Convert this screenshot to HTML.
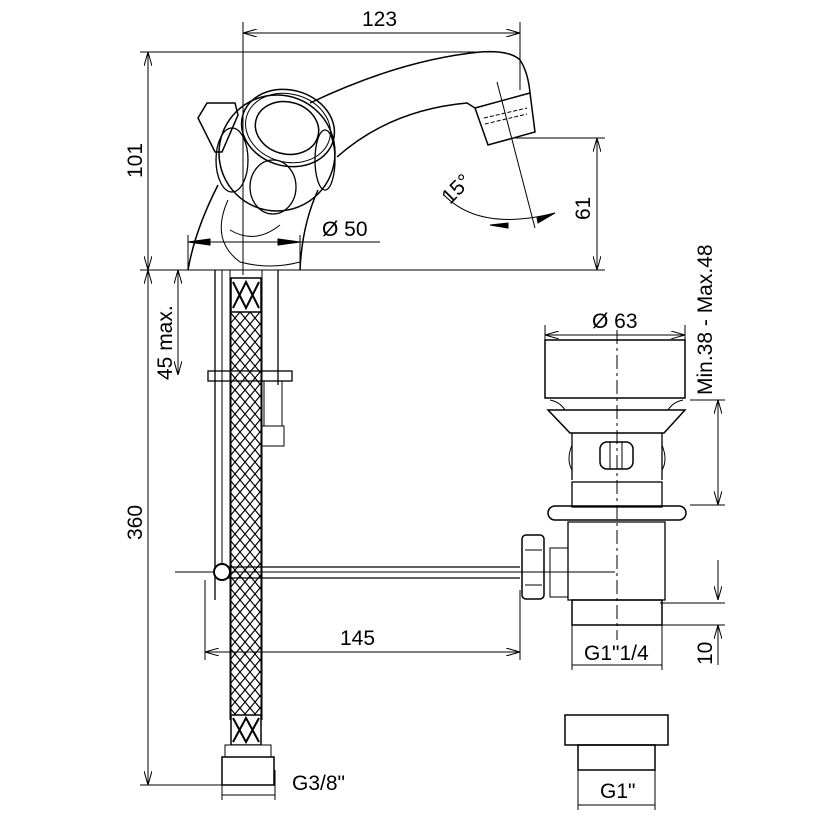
<!DOCTYPE html>
<html><head><meta charset="utf-8"><style>
html,body{margin:0;padding:0;background:#fff;}
svg{display:block;}
text{font-family:"Liberation Sans",sans-serif;font-size:21px;fill:#000;}
</style></head><body>
<svg width="830" height="830" viewBox="0 0 830 830" xmlns="http://www.w3.org/2000/svg">
<defs>
<marker id="a" markerWidth="14" markerHeight="8" refX="14" refY="4" orient="auto-start-reverse" markerUnits="userSpaceOnUse"><path d="M0,0 L14,4 L0,8" fill="none" stroke="#000" stroke-width="1"/></marker>
<pattern id="mesh" width="10" height="12" patternUnits="userSpaceOnUse"><path d="M0,0 L10,12 M10,0 L0,12" stroke="#000" stroke-width="1.2"/></pattern>
</defs>
<g stroke="#000" stroke-width="1" fill="none">
<!-- extension lines -->
<line x1="243" y1="22" x2="243" y2="275"/>
<line x1="520" y1="22" x2="520" y2="90"/>
<line x1="140" y1="52" x2="500" y2="52"/>
<line x1="140" y1="270" x2="605" y2="270"/>
<line x1="515" y1="138" x2="605" y2="138"/>
<line x1="140" y1="785" x2="275" y2="785"/>
<line x1="188" y1="235" x2="188" y2="270"/>
<line x1="300" y1="235" x2="300" y2="270"/>
<!-- dims -->
<line x1="243" y1="33" x2="520" y2="33" marker-start="url(#a)" marker-end="url(#a)"/>
<line x1="148" y1="52" x2="148" y2="270" marker-start="url(#a)" marker-end="url(#a)"/>
<line x1="597" y1="138" x2="597" y2="270" marker-start="url(#a)" marker-end="url(#a)"/>
<line x1="188" y1="242" x2="380" y2="242"/>
<path d="M188,242 L210,239 L210,245 Z M300,242 L278,239 L278,245 Z" fill="#000"/>
<line x1="178" y1="270" x2="178" y2="375" marker-start="url(#a)" marker-end="url(#a)"/>
<line x1="148" y1="270" x2="148" y2="785" marker-start="url(#a)" marker-end="url(#a)"/>
<line x1="205" y1="652" x2="520" y2="652" marker-start="url(#a)" marker-end="url(#a)"/>
<line x1="205" y1="580" x2="205" y2="660"/>
<line x1="520" y1="590" x2="520" y2="660"/>
<line x1="222" y1="795" x2="275" y2="795"/>
<line x1="222" y1="770" x2="222" y2="800"/>
<line x1="275" y1="770" x2="275" y2="800"/>
<line x1="545" y1="335" x2="685" y2="335" marker-start="url(#a)" marker-end="url(#a)"/>
<line x1="545" y1="325" x2="545" y2="395"/>
<line x1="685" y1="325" x2="685" y2="395"/>
<line x1="718" y1="400" x2="718" y2="505" marker-start="url(#a)" marker-end="url(#a)"/>
<line x1="690" y1="400" x2="725" y2="400"/>
<line x1="690" y1="505" x2="725" y2="505"/>
<line x1="718" y1="560" x2="718" y2="600" marker-end="url(#a)"/>
<line x1="718" y1="625" x2="718" y2="665" marker-start="url(#a)"/>
<line x1="660" y1="603" x2="725" y2="603"/>
<line x1="660" y1="625" x2="725" y2="625"/>
<line x1="572" y1="665" x2="662" y2="665"/>
<line x1="572" y1="625" x2="572" y2="670"/>
<line x1="662" y1="625" x2="662" y2="670"/>
<line x1="578" y1="805" x2="655" y2="805"/>
<line x1="578" y1="770" x2="578" y2="810"/>
<line x1="655" y1="770" x2="655" y2="810"/>
<!-- 15 deg arc -->
<path d="M444,195 Q480,232 555,213"/>
<path d="M490,225 L508,223 L508,228 Z M555,213 L537,218 L538,223 Z" fill="#000"/>
<line x1="497" y1="82" x2="535" y2="228"/>
<!-- faucet body -->
<path d="M310,103 Q400,60 480,52 Q510,50 520,60 Q528,72 530,93" stroke-width="1.5"/>
<path d="M337,157 Q390,110 467,103 L475,108" stroke-width="1.5"/>
<path d="M475,108 L530,93 L535,132 L488,145 Z" stroke-width="1.5"/>
<path d="M484,118 L527,108 M485,124 L527,114" stroke-dasharray="4,2"/>
<circle cx="277" cy="153" r="58" stroke-width="1.5"/>
<ellipse cx="288" cy="128" rx="47" ry="38" stroke-width="1.5" transform="rotate(15 288 128)"/>
<ellipse cx="288" cy="128" rx="43" ry="34" transform="rotate(15 288 128)"/>
<ellipse cx="287" cy="128" rx="32" ry="26" stroke-width="1.5" transform="rotate(15 287 128)"/>
<ellipse cx="273" cy="187" rx="23" ry="27" stroke-width="1.3"/>
<ellipse cx="232" cy="160" rx="16" ry="32" stroke-width="1.3"/>
<ellipse cx="325" cy="160" rx="10" ry="30" stroke-width="1.3"/>
<path d="M198,118 L207,103 L235,103 L238,115 L222,152 L215,152 Z" stroke-width="1.5"/>
<path d="M218,185 Q195,230 188,270" stroke-width="1.5"/>
<path d="M318,190 Q302,225 300,270" stroke-width="1.5"/>
<path d="M228,200 Q210,240 240,262 Q270,270 300,262" />
<path d="M230,230 Q255,245 280,225"/>
<!-- rods -->
<line x1="215" y1="270" x2="215" y2="600" stroke-width="1.3"/>
<line x1="222" y1="270" x2="222" y2="565"/>
<line x1="230" y1="270" x2="230" y2="720"/>
<line x1="262" y1="270" x2="262" y2="720"/>
<line x1="278" y1="270" x2="278" y2="385" stroke-width="1.3"/>
<rect x="208" y="371" width="84" height="10" stroke-width="1.3"/>
<rect x="264" y="381" width="18" height="45"/>
<rect x="262" y="426" width="22" height="20"/>
<!-- hose -->
<rect x="231" y="280" width="30" height="440" fill="url(#mesh)" stroke="#000"/>
<rect x="231" y="278" width="30" height="34" fill="#fff" stroke="#000" stroke-width="1.5"/>
<path d="M233,282 L246,308 L259,282 M233,308 L246,282 L259,308" stroke-width="2"/>
<rect x="231" y="715" width="30" height="30" fill="#fff" stroke="#000" stroke-width="1.5"/>
<path d="M233,718 L246,742 L259,718 M233,742 L246,718 L259,742" stroke-width="2"/>
<rect x="225" y="745" width="46" height="12" fill="#fff"/>
<rect x="222" y="757" width="52" height="28" fill="#fff" stroke-width="1.5"/>
<!-- horizontal rod -->
<line x1="175" y1="572" x2="615" y2="572"/>
<line x1="222" y1="567" x2="520" y2="567" stroke-width="1.3"/>
<line x1="222" y1="578" x2="520" y2="578" stroke-width="1.3"/>
<circle cx="222" cy="572" r="8" fill="#fff" stroke-width="2"/>
<!-- drain -->
<rect x="545" y="340" width="140" height="58" stroke-width="1.5"/>
<path d="M548,410 L685,410 L664,433 L570,433 Z" stroke-width="1.5"/>
<path d="M550,400 Q560,402 565,410 M683,400 Q673,402 668,410"/>
<path d="M572,433 L572,480 M662,433 L662,480" stroke-width="1.3"/>
<path d="M572,445 Q566,460 572,470 M662,445 Q668,460 662,470"/>
<rect x="600" y="442" width="33" height="27" rx="7" stroke-width="1.5"/>
<line x1="610" y1="442" x2="610" y2="469"/><line x1="622" y1="442" x2="622" y2="469"/>
<rect x="572" y="482" width="90" height="25" stroke-width="1.3"/>
<rect x="548" y="506" width="138" height="14" rx="7" stroke-width="1.5"/>
<path d="M568,522 L665,522 L665,600 L568,600 Z" stroke-width="1.3"/>
<path d="M568,548 L550,548 L550,597 L568,597"/>
<rect x="522" y="535" width="22" height="64" rx="4" stroke-width="1.5"/>
<line x1="525" y1="550" x2="542" y2="550"/><line x1="525" y1="585" x2="542" y2="585"/>
<rect x="572" y="600" width="90" height="25" stroke-width="1.5"/>
<line x1="617" y1="330" x2="617" y2="640" stroke-dasharray="14,4,3,4"/>
<!-- adapter -->
<rect x="565" y="715" width="103" height="30" stroke-width="1.5"/>
<rect x="578" y="745" width="77" height="25" stroke-width="1.5"/>
</g>
<text x="362" y="26">123</text>
<text transform="translate(142,178) rotate(-90)">101</text>
<text transform="translate(590,220) rotate(-90)">61</text>
<text x="322" y="236">Ø 50</text>
<text transform="translate(450,205) rotate(-45)" font-size="19">15°</text>
<text transform="translate(172,380) rotate(-90)">45 max.</text>
<text transform="translate(142,540) rotate(-90)">360</text>
<text x="340" y="645">145</text>
<text x="592" y="328">Ø 63</text>
<text transform="translate(712,395) rotate(-90)" font-size="20">Min.38 - Max.48</text>
<text x="584" y="660">G1"1/4</text>
<text transform="translate(712,665) rotate(-90)">10</text>
<text x="292" y="790">G3/8"</text>
<text x="600" y="798">G1"</text>
</svg>
</body></html>
